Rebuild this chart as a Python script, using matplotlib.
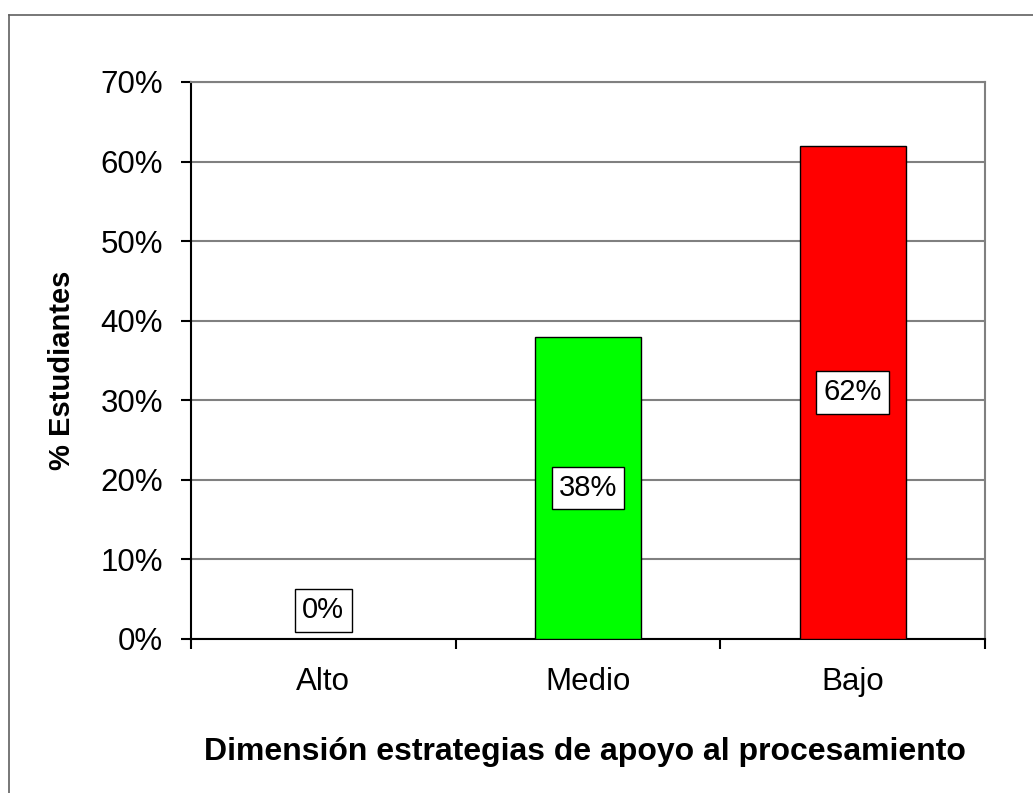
import matplotlib
matplotlib.use("Agg")
import matplotlib.pyplot as plt
from matplotlib.lines import Line2D

categories = ["Alto", "Medio", "Bajo"]
values = [0, 38, 62]
colors = ["#00FF00", "#00FF00", "#FF0000"]
yticks = [0, 10, 20, 30, 40, 50, 60, 70]

plt.rcParams['font.family'] = ['Liberation Sans', 'DejaVu Sans']

fig = plt.figure(figsize=(10.33, 7.93), dpi=100)
ax = fig.add_axes([191/1033, 1-639/793, (985-191)/1033, (639-82)/793])

x = list(range(len(categories)))
ax.bar(x, values, width=0.4, color=colors, edgecolor='black', linewidth=1.0, zorder=3)

ax.set_xlim(-0.5, 2.5)
ax.set_ylim(0, 70)
ax.set_yticks(yticks)
ax.set_yticklabels([f"{t}%" for t in yticks], fontsize=22.5)
ax.yaxis.grid(True, color='#808080', linewidth=1.5, zorder=0)
ax.set_axisbelow(True)

ax.set_xticks(x)
ax.set_xticklabels(categories, fontsize=22.5)
ax.tick_params(axis='x', which='major', length=0, pad=20)
ax.set_xticks([-0.5, 0.5, 1.5, 2.5], minor=True)
ax.tick_params(axis='x', which='minor', length=7, width=1.5, direction='out')
ax.tick_params(axis='y', length=7, width=1.5, direction='out', pad=13)

for s in ['left', 'bottom']:
    ax.spines[s].set_color('black')
    ax.spines[s].set_linewidth(1.5)
for s in ['top', 'right']:
    ax.spines[s].set_color('#808080')
    ax.spines[s].set_linewidth(1.5)

for xi, v in zip(x, values):
    ypos = v / 2 if v > 0 else 3.6
    ax.text(xi, ypos, f"{v}%", ha='center', va='center', fontsize=21, zorder=5,
            bbox=dict(boxstyle='square,pad=0.25', facecolor='white', edgecolor='black', linewidth=1.0))

fig.text(62/1033, 1-370/793, "% Estudiantes", rotation=90, ha='center', va='center',
         fontsize=21, fontweight='bold')
fig.text(585/1033, 1-752/793, "Dimensión estrategias de apoyo al procesamiento",
         ha='center', va='center', fontsize=23, fontweight='bold')

# outer frame (top and left visible)
fig.add_artist(Line2D([9/1033, 9/1033], [0, 1-15/793], transform=fig.transFigure, color='#606060', linewidth=1.2))
fig.add_artist(Line2D([9/1033, 1], [1-15/793, 1-15/793], transform=fig.transFigure, color='#606060', linewidth=1.2))

fig.savefig("out.png", dpi=100)
